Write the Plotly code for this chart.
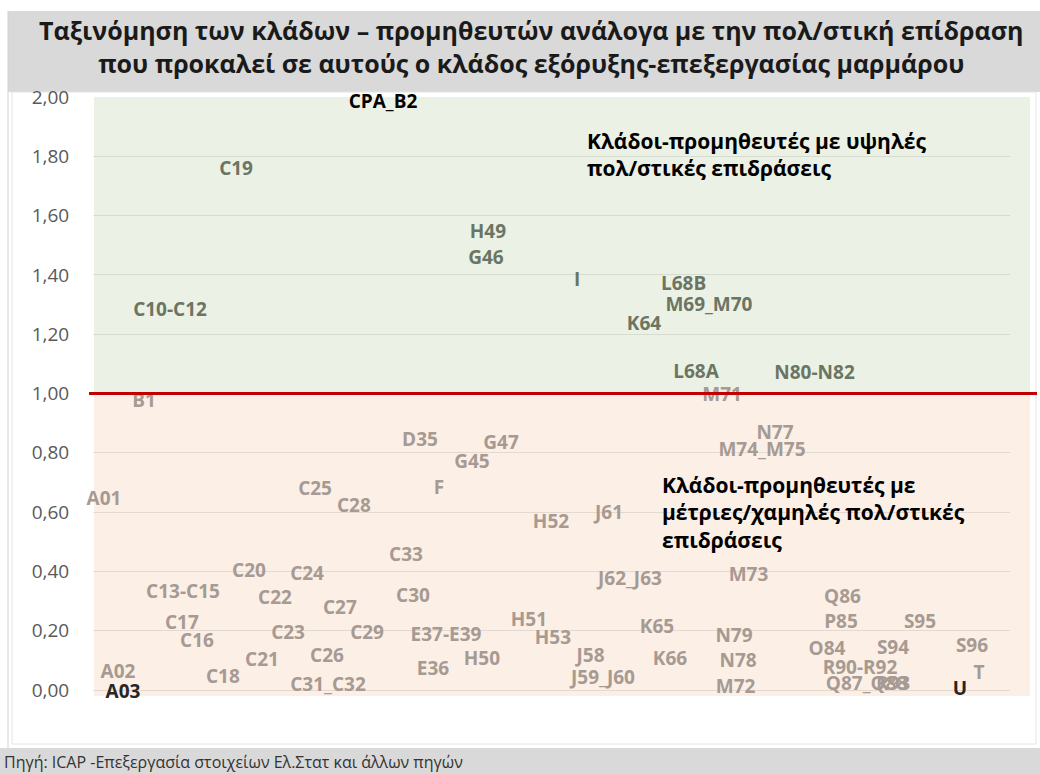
import plotly.graph_objects as go

# --- data: sector labels, position on the hidden x axis, multiplier (y) ---
high_labels = ["C19", "H49", "G46", "C10-C12", "I", "L68B", "M69_M70", "K64", "L68A", "N80-N82"]
high_x = [10.92, 30.15, 30.0, 5.88, 36.95, 45.08, 47.02, 42.06, 46.03, 55.08]
high_y = [1.754, 1.541, 1.454, 1.278, 1.379, 1.366, 1.295, 1.231, 1.069, 1.066]

low_labels = ["M71", "B1", "N77", "D35", "G47", "M74_M75", "G45", "F", "C25", "A01",
              "C28", "J61", "H52", "C33", "C20", "C24", "M73", "J62_J63", "C13-C15", "C30",
              "Q86", "C22", "C27", "H51", "P85", "S95", "C17", "K65", "C23", "C29",
              "E37-E39", "N79", "H53", "C16", "S96", "S94", "O84", "C26", "J58", "H50",
              "K66", "C21", "N78", "E36", "R90-R92", "A02", "T", "C18", "J59_J60", "Q87_Q88",
              "R93", "C31_C32", "M72"]
low_x = [48.02, 3.89, 52.06, 24.96, 31.15, 51.07, 28.93, 26.41, 16.95, 0.84,
         19.92, 39.39, 34.96, 23.89, 11.91, 16.34, 50.04, 40.99, 6.87, 24.43,
         57.21, 13.89, 18.85, 33.28, 57.10, 63.13, 6.79, 43.05, 14.89, 20.92,
         26.95, 48.93, 35.11, 7.94, 67.10, 61.07, 56.03, 17.86, 37.98, 29.69,
         44.05, 12.90, 49.24, 25.95, 58.55, 1.91, 67.63, 9.92, 38.93, 59.05,
         61.07, 17.94, 49.05]
low_y = [0.992, 0.971, 0.863, 0.840, 0.830, 0.806, 0.766, 0.678, 0.675, 0.641,
         0.617, 0.594, 0.563, 0.452, 0.398, 0.388, 0.384, 0.371, 0.327, 0.314,
         0.310, 0.307, 0.273, 0.233, 0.226, 0.226, 0.223, 0.209, 0.189, 0.189,
         0.182, 0.179, 0.172, 0.162, 0.145, 0.138, 0.135, 0.111, 0.111, 0.101,
         0.101, 0.098, 0.094, 0.067, 0.071, 0.057, 0.054, 0.040, 0.037, 0.017,
         0.017, 0.013, 0.007]

dark_labels = ["CPA_B2", "A03", "U"]
dark_x = [22.14, 2.29, 66.18]
dark_y = [1.98, -0.01, 0.0]

threshold = 1.0
y_ticks = [0.0, 0.2, 0.4, 0.6, 0.8, 1.0, 1.2, 1.4, 1.6, 1.8, 2.0]

# --- layout geometry (pixels) ---
W, H = 1040, 774
L, R, T, B = 93, 30, 97, 78
X_RANGE = [0, 70]
Y_RANGE = [-0.02, 2.0]
FONT = "Open Sans"


def px(x):
    return (x - L) / (W - L - R)


def py(y):
    return (H - B - y) / (H - T - B)


def yval(v):
    return (v - Y_RANGE[0]) / (Y_RANGE[1] - Y_RANGE[0])


fig = go.Figure()

label_font = dict(family=FONT, size=19, weight="bold")
fig.add_trace(go.Scatter(x=high_x, y=high_y, text=high_labels, mode="text",
                         textposition="middle center", cliponaxis=False,
                         textfont=dict(label_font, color="#6b7563"), hoverinfo="text"))
fig.add_trace(go.Scatter(x=low_x, y=low_y, text=low_labels, mode="text",
                         textposition="middle center", cliponaxis=False,
                         textfont=dict(label_font, color="#a69a93"), hoverinfo="text"))
fig.add_trace(go.Scatter(x=dark_x, y=dark_y, text=dark_labels, mode="text",
                         textposition="middle center", cliponaxis=False,
                         textfont=dict(label_font, color=["#000000", "#262626", "#262626"]),
                         hoverinfo="text"))

shapes = [
    # title and source bands
    dict(type="rect", xref="paper", yref="paper", x0=px(8), x1=px(1040), y0=py(92), y1=py(11),
         fillcolor="#d9d9d9", line_width=0, layer="below"),
    dict(type="rect", xref="paper", yref="paper", x0=px(0), x1=px(1040), y0=py(774), y1=py(748),
         fillcolor="#d9d9d9", line_width=0, layer="below"),
    # chart frame
    dict(type="line", xref="paper", yref="paper", x0=px(8), x1=px(8), y0=py(748), y1=py(11),
         line=dict(color="#d0d0d0", width=1), layer="below"),
    dict(type="rect", xref="paper", yref="paper", x0=px(12), x1=px(1036), y0=py(744), y1=py(92),
         line=dict(color="#e4e4e4", width=1), fillcolor="rgba(0,0,0,0)", layer="below"),
    # zones
    dict(type="rect", xref="paper", yref="paper", x0=px(94), x1=px(1030),
         y0=yval(threshold), y1=yval(2.0), fillcolor="#ebf1e4", line_width=0, layer="below"),
    dict(type="rect", xref="paper", yref="paper", x0=px(94), x1=px(1030),
         y0=0, y1=yval(threshold), fillcolor="#fbefe6", line_width=0, layer="below"),
    # threshold line
    dict(type="line", xref="paper", yref="paper", x0=px(89), x1=px(1037),
         y0=yval(threshold), y1=yval(threshold), line=dict(color="#c00000", width=3)),
]

annotations = [
    dict(text="Ταξινόμηση των κλάδων – προμηθευτών ανάλογα με την πολ/στική επίδραση<br>"
              "που προκαλεί σε αυτούς ο κλάδος εξόρυξης-επεξεργασίας μαρμάρου",
         xref="paper", yref="paper", x=px(531), y=py(47), xanchor="center", yanchor="middle",
         showarrow=False, font=dict(family=FONT, size=25, color="#1a1a1a", weight="bold")),
    dict(text="Πηγή: ICAP -Επεξεργασία στοιχείων Ελ.Στατ και άλλων πηγών",
         xref="paper", yref="paper", x=px(2), y=py(762), xanchor="left", yanchor="middle",
         showarrow=False, font=dict(family=FONT, size=16, color="#333333")),
    dict(text="Κλάδοι-προμηθευτές με υψηλές<br>πολ/στικές επιδράσεις",
         x=(585 - L) / 13.1, y=1.905, xanchor="left", yanchor="top", align="left",
         showarrow=False, font=dict(family=FONT, size=21, color="#000000", weight="bold")),
    dict(text="Κλάδοι-προμηθευτές με<br>μέτριες/χαμηλές πολ/στικές<br>επιδράσεις",
         x=(660 - L) / 13.1, y=0.745, xanchor="left", yanchor="top", align="left",
         showarrow=False, font=dict(family=FONT, size=21, color="#000000", weight="bold")),
]

fig.update_layout(
    width=W, height=H,
    margin=dict(l=L, r=R, t=T, b=B, pad=0),
    paper_bgcolor="white",
    plot_bgcolor="rgba(0,0,0,0)",
    separators=",.",
    showlegend=False,
    shapes=shapes,
    annotations=annotations,
    xaxis=dict(range=X_RANGE, visible=False, fixedrange=True),
    yaxis=dict(range=Y_RANGE, tickvals=y_ticks, tickformat=".2f",
               showgrid=True, gridcolor="rgba(0,0,0,0.09)", gridwidth=1,
               zeroline=False, showline=False,
               ticks="outside", ticklen=19, tickcolor="rgba(0,0,0,0)",
               tickfont=dict(family=FONT, size=19, color="#595959"), fixedrange=True),
)

# page body has a default 8px margin; drop it so the figure sits at the window's corner
fig.write_html("out.html", config={"displayModeBar": False},
               post_script="document.body.style.margin='0px';")
